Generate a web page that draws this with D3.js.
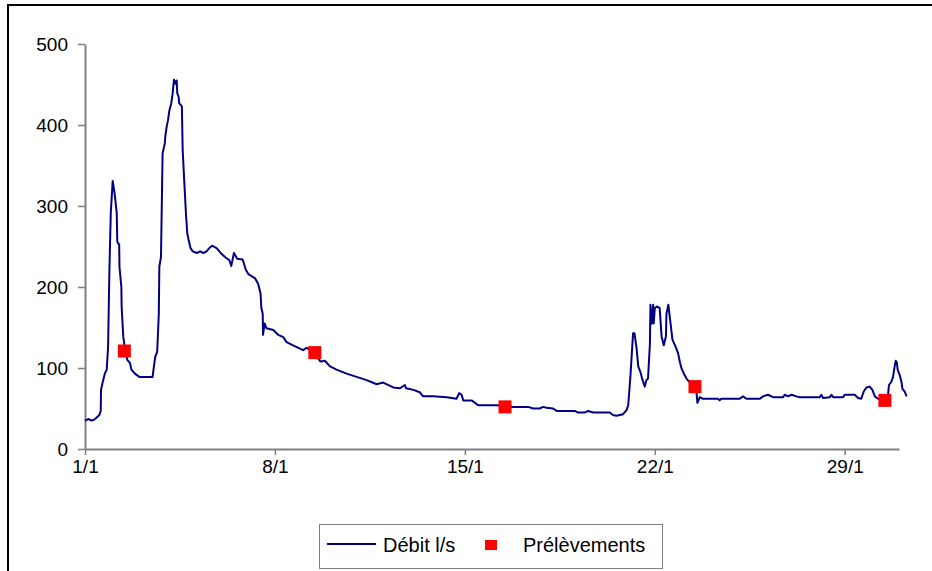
<!DOCTYPE html>
<html>
<head>
<meta charset="utf-8">
<script src="https://cdn.jsdelivr.net/npm/d3@7"></script>
<style>
  html, body { margin: 0; padding: 0; background: #fff; }
  svg { display: block; }
  text { font-family: Arial, "Liberation Sans", sans-serif; fill: #000; }
</style>
</head>
<body>
<svg id="chart" width="932" height="571"></svg>
<script>
// Débit (l/s) : temps en jours depuis le 1/1 à 0 h
const jours = [
  0, 0.12, 0.25, 0.37, 0.53, 0.58, 0.59, 0.67, 0.73, 0.80, 0.85, 0.90, 0.95, 1.02, 1.09,
  1.17, 1.19, 1.26, 1.27, 1.34, 1.35, 1.41, 1.48, 1.56, 1.66, 1.71, 1.84, 2.00, 2.49, 2.54,
  2.59, 2.66, 2.72, 2.74, 2.80, 2.86, 2.94, 2.96, 3.01, 3.06, 3.11, 3.18, 3.23, 3.28, 3.33,
  3.38, 3.40, 3.45, 3.47, 3.57, 3.60, 3.65, 3.72, 3.77, 3.82, 3.89, 3.97, 4.12, 4.24, 4.36,
  4.48, 4.58, 4.68, 4.85, 5.00, 5.16, 5.32, 5.39, 5.49, 5.61, 5.81, 5.93, 6.02, 6.26, 6.38,
  6.47, 6.50, 6.55, 6.56, 6.62, 6.69, 6.94, 7.12, 7.31, 7.43, 7.67, 7.92, 8.04, 8.17, 8.45,
  8.68, 8.84, 9.03, 9.09, 9.27, 9.64, 10.01, 10.38, 10.75, 10.99, 11.36, 11.61, 11.79, 11.83, 12.10,
  12.34, 12.46, 12.83, 13.33, 13.69, 13.79, 13.88, 13.94, 14.25, 14.49, 15.17, 15.78, 16.33, 16.52, 16.76,
  16.88, 17.01, 17.25, 17.38, 18.05, 18.17, 18.42, 18.54, 18.73, 19.34, 19.46, 19.59, 19.83, 19.96, 20.02,
  20.10, 20.20, 20.25, 20.33, 20.39, 20.47, 20.55, 20.63, 20.69, 20.75, 20.82, 20.84, 20.89, 20.94, 20.96,
  21.00, 21.08, 21.18, 21.25, 21.33, 21.41, 21.43, 21.50, 21.58, 21.65, 21.77, 21.86, 21.92, 21.98, 22.07,
  22.17, 22.29, 22.47, 22.54, 22.57, 22.66, 22.78, 23.33, 23.39, 23.45, 24.13, 24.25, 24.38, 24.87, 24.99,
  25.17, 25.36, 25.73, 25.79, 25.91, 26.04, 26.22, 26.34, 27.08, 27.14, 27.20, 27.45, 27.51, 27.57, 27.94,
  28.00, 28.37, 28.49, 28.61, 28.70, 28.80, 28.92, 29.02, 29.11, 29.23, 29.47, 29.59, 29.63, 29.72, 29.78,
  29.84, 29.88, 29.92, 29.95, 30.03, 30.09, 30.13, 30.21, 30.28
];
const debit = [
  35, 37, 35, 37, 42, 47, 73, 85, 93, 98, 126, 221, 291, 331, 316,
  291, 256, 252, 225, 200, 176, 139, 122, 110, 106, 98, 93, 89, 89, 102,
  114, 120, 167, 225, 237, 365, 377, 386, 398, 406, 418, 427, 439, 456, 451,
  455, 439, 435, 427, 423, 369, 336, 291, 266, 258, 248, 244, 242, 244, 242,
  244, 248, 251, 248, 242, 237, 233, 226, 242, 235, 234, 221, 216, 211, 204,
  192, 174, 167, 141, 155, 149, 147, 141, 138, 132, 128, 124, 122, 125, 118,
  108, 109, 102, 101, 98, 93, 89, 85, 80, 82, 76, 75, 79, 75, 73,
  70, 65, 65, 64, 62, 69, 67, 60, 60, 54, 54, 52, 52, 50, 50,
  52, 51, 50, 47, 47, 45, 45, 47, 45, 45, 42, 41, 43, 48, 54,
  89, 143, 143, 124, 102, 95, 85, 77, 85, 87, 130, 178, 155, 178, 155,
  174, 176, 174, 139, 128, 139, 167, 178, 155, 135, 126, 118, 108, 100, 93,
  87, 82, 77, 69, 57, 64, 62, 62, 60, 62, 62, 65, 62, 62, 65,
  67, 64, 64, 67, 65, 67, 65, 64, 64, 67, 63, 64, 67, 64, 64,
  67, 67, 63, 62, 71, 76, 77, 73, 65, 62, 60, 65, 79, 83, 89,
  102, 109, 107, 98, 91, 83, 74, 71, 65
];

// Prélèvements : instants et débits associés
const prelevJours = [1.45, 8.47, 15.48, 22.48, 29.48];
const prelevValeurs = [121, 119, 52, 77, 60];

// Axes
const xTickJours = [0, 7, 14, 21, 28];
const xTickLabels = ["1/1", "8/1", "15/1", "22/1", "29/1"];
const yTicks = [0, 100, 200, 300, 400, 500];

const svg = d3.select("#chart");

// Cadre extérieur
svg.append("rect")
  .attr("x", 8).attr("y", 5)
  .attr("width", 940).attr("height", 600)
  .attr("fill", "none").attr("stroke", "#000").attr("stroke-width", 2);

const x = d3.scaleLinear().domain([0, 30]).range([85, 899]);
const y = d3.scaleLinear().domain([0, 500]).range([449, 44]);

// Axe des ordonnées
const yAxis = svg.append("g")
  .attr("transform", `translate(${x(0)},0)`)
  .call(d3.axisLeft(y).tickValues(yTicks).tickFormat(d3.format("d"))
    .tickSize(7).tickPadding(10).tickSizeOuter(0));

// Axe des abscisses
const xAxis = svg.append("g")
  .attr("transform", `translate(0,${y(0)})`)
  .call(d3.axisBottom(x).tickValues(xTickJours)
    .tickFormat((d, i) => xTickLabels[i])
    .tickSize(6).tickPadding(5).tickSizeOuter(0));

[yAxis, xAxis].forEach(g => {
  g.select(".domain").attr("stroke", "#808080").attr("stroke-width", 2);
  g.selectAll(".tick line").attr("stroke", "#808080").attr("stroke-width", 1.5);
  g.selectAll(".tick text")
    .attr("fill", "#000")
    .style("font-family", 'Arial, "Liberation Sans", sans-serif')
    .style("font-size", "19px");
});

// Courbe de débit
const serie = jours.map((j, i) => ({ j, v: debit[i] }));
svg.append("path")
  .datum(serie)
  .attr("fill", "none")
  .attr("stroke", "#000080")
  .attr("stroke-width", 2)
  .attr("stroke-linejoin", "round")
  .attr("d", d3.line().x(d => x(d.j)).y(d => y(d.v)));

// Points de prélèvement
const taille = 13;
svg.append("g").selectAll("rect")
  .data(prelevJours.map((j, i) => ({ j, v: prelevValeurs[i] })))
  .join("rect")
  .attr("x", d => x(d.j) - taille / 2)
  .attr("y", d => y(d.v) - taille / 2)
  .attr("width", taille).attr("height", taille)
  .attr("fill", "#ff0000");

// Légende
const leg = svg.append("g");
leg.append("rect")
  .attr("x", 319.5).attr("y", 524.5)
  .attr("width", 343).attr("height", 44)
  .attr("fill", "#fff").attr("stroke", "#808080").attr("stroke-width", 1);
leg.append("line")
  .attr("x1", 327).attr("x2", 376)
  .attr("y1", 544).attr("y2", 544)
  .attr("stroke", "#000080").attr("stroke-width", 2);
leg.append("text")
  .attr("x", 383).attr("y", 545).attr("dy", "0.35em")
  .style("font-size", "20px")
  .text("Débit l/s");
leg.append("rect")
  .attr("x", 485).attr("y", 540)
  .attr("width", 12).attr("height", 10)
  .attr("fill", "#ff0000");
leg.append("text")
  .attr("x", 523).attr("y", 545).attr("dy", "0.35em")
  .style("font-size", "20px")
  .text("Prélèvements");
</script>
</body>
</html>
